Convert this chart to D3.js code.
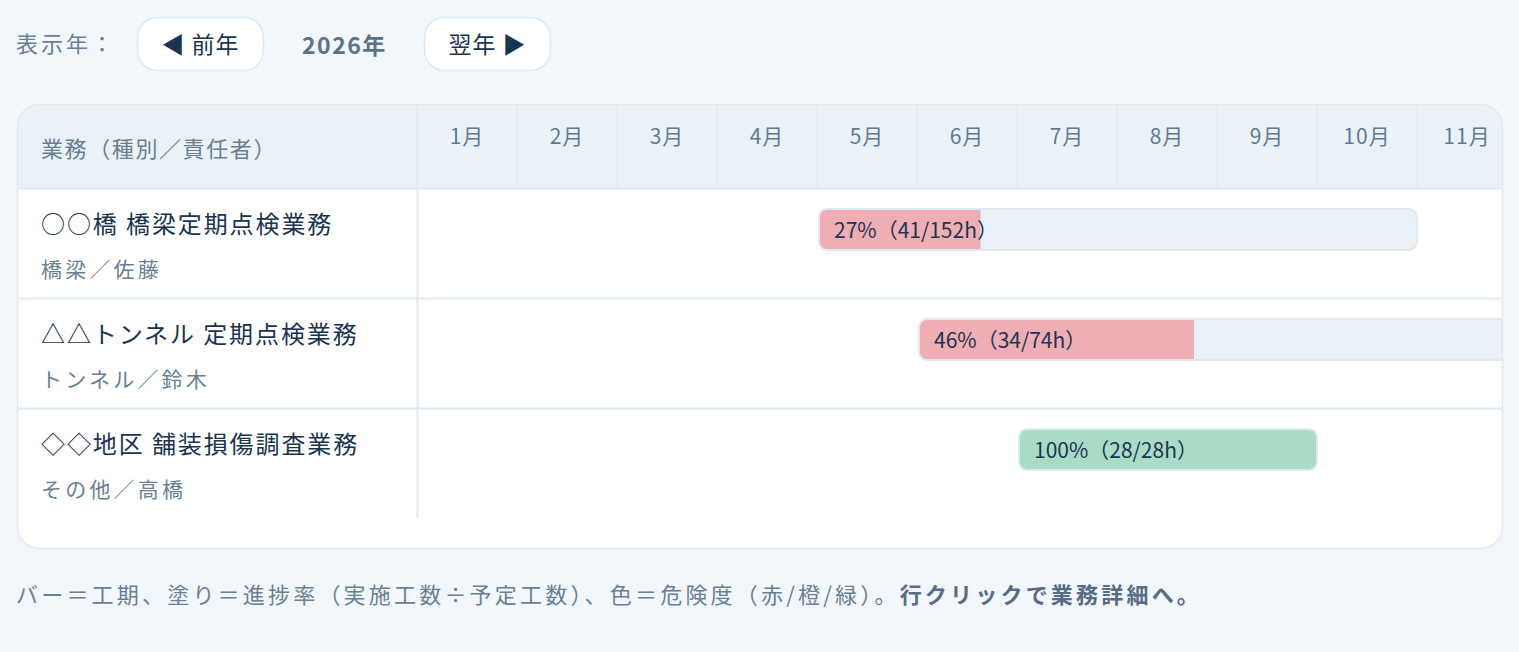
<!DOCTYPE html>
<html lang="ja">
<head>
<meta charset="utf-8">
<script src="https://cdn.jsdelivr.net/npm/d3@7"></script>
<style>
  html, body { margin: 0; padding: 0; background: #f2f7fb; }
  svg { display: block; font-family: "Noto Sans CJK JP", "Noto Sans", sans-serif; }
</style>
</head>
<body>
<svg id="chart" width="1519" height="652"></svg>
<script>
// ---- data ----
const months = ["1月","2月","3月","4月","5月","6月","7月","8月","9月","10月","11月","12月"];
const taskNames = ["○○橋 橋梁定期点検業務", "△△トンネル 定期点検業務", "◇◇地区 舗装損傷調査業務"];
const taskSubs = ["橋梁／佐藤", "トンネル／鈴木", "その他／高橋"];
const startMonth = [5, 6, 7];
const endMonth = [10, 11, 9];
const actualHours = [41, 34, 28];
const plannedHours = [152, 74, 28];
const progressPct = [27, 46, 100];
const riskLevel = ["赤", "赤", "緑"];
const yearLabel = "2026年";
const headerLabel = "業務（種別／責任者）";
const footerNote = "バー＝工期、塗り＝進捗率（実施工数÷予定工数）、色＝危険度（赤/橙/緑）。";
const footerBold = "行クリックで業務詳細へ。";

// ---- styles ----
const riskColor = { "赤": "#efadb4", "橙": "#f6d2a6", "緑": "#a9dcc5" };
const C = { line: "#dfe9f2", head: "#eaf2f8", muted: "#687f95", dark: "#183450", trackFill: "#e9f1f8" };

const svg = d3.select("#chart");
const W = 1519;

// ---- top controls ----
svg.append("text").attr("x", 16).attr("y", 52).attr("font-size", 22).attr("fill", C.muted)
   .style("letter-spacing", "3px").text("表示年：");
const btns = [{x: 137, label: "◀ 前年"}, {x: 424, label: "翌年 ▶"}];
btns.forEach(b => {
  svg.append("rect").attr("x", b.x + 0.5).attr("y", 17.5).attr("width", 126).attr("height", 53)
     .attr("rx", 20).attr("fill", "#fff").attr("stroke", C.line).attr("stroke-width", 1.5);
  svg.append("text").attr("x", b.x + 63.5).attr("y", 53).attr("text-anchor", "middle")
     .attr("font-size", 23).attr("fill", C.dark).style("letter-spacing", "1px").text(b.label);
});
svg.append("text").attr("x", 302).attr("y", 54).attr("font-size", 23).attr("font-weight", 700)
   .attr("fill", "#5b7289").style("letter-spacing", "1.5px").text(yearLabel);

// ---- table frame ----
const frame = {x: 17.5, y: 104.5, w: 1485, h: 444};
svg.append("defs").append("clipPath").attr("id", "frameClip")
   .append("rect").attr("x", frame.x).attr("y", frame.y).attr("width", frame.w).attr("height", frame.h).attr("rx", 22);
svg.append("rect").attr("x", frame.x).attr("y", frame.y).attr("width", frame.w).attr("height", frame.h)
   .attr("rx", 22).attr("fill", "#fff");
const g = svg.append("g").attr("clip-path", "url(#frameClip)");

const colLeft = 417;
const x = d3.scaleLinear().domain([0, 12]).range([colLeft, colLeft + 1200]);
const y = d3.scaleBand().domain(d3.range(taskNames.length)).range([189, 189 + 110 * taskNames.length]);

// header
g.append("rect").attr("x", 0).attr("y", 104).attr("width", W).attr("height", 84).attr("fill", C.head);
g.append("line").attr("x1", 0).attr("x2", W).attr("y1", 188.5).attr("y2", 188.5).attr("stroke", C.line).attr("stroke-width", 2);
g.selectAll(".mline").data(months).join("line").attr("class", "mline")
  .attr("x1", (d, i) => x(i + 1) + 0.5).attr("x2", (d, i) => x(i + 1) + 0.5)
  .attr("y1", 104).attr("y2", 188).attr("stroke", C.line).attr("stroke-width", 1.5);
// only labels of columns visible inside the scroll frame
const visibleMonths = months.map((m, i) => ({m, i})).filter(d => x(d.i + 0.5) < frame.x + frame.w);
g.selectAll(".mlabel").data(visibleMonths).join("text").attr("class", "mlabel")
  .attr("x", d => x(d.i + 0.5)).attr("y", 144).attr("text-anchor", "middle")
  .attr("font-size", 21).attr("fill", "#617a91").style("letter-spacing", "1px").text(d => d.m);
g.append("text").attr("x", 41).attr("y", 157).attr("font-size", 22).attr("fill", C.muted)
  .style("letter-spacing", "1.6px").text(headerLabel);

// first-column separator
g.append("line").attr("x1", colLeft + 0.5).attr("x2", colLeft + 0.5).attr("y1", 104).attr("y2", y.range()[1] - 1)
  .attr("stroke", C.line).attr("stroke-width", 2);

// row separators
g.selectAll(".rline").data(d3.range(taskNames.length - 1)).join("line").attr("class", "rline")
  .attr("x1", 0).attr("x2", W).attr("y1", i => y(i) + 109.5).attr("y2", i => y(i) + 109.5)
  .attr("stroke", C.line).attr("stroke-width", 2);

// rows
const rows = g.selectAll(".row").data(d3.range(taskNames.length)).join("g").attr("class", "row")
  .attr("transform", i => `translate(0,${y(i)})`);
rows.append("text").attr("x", 41).attr("y", 44).attr("font-size", 24).attr("fill", C.dark)
  .style("letter-spacing", "1.9px").text(i => taskNames[i]);
rows.append("text").attr("x", 41).attr("y", 88).attr("font-size", 21).attr("fill", C.muted)
  .style("letter-spacing", "3.2px").text(i => taskSubs[i]);

// bars
const defs = svg.select("defs");
rows.each(function(i) {
  const r = d3.select(this);
  const bx = x(startMonth[i] - 1) + 2;
  const bw = x(endMonth[i]) - bx;
  const by = 20, bh = 41;
  defs.append("clipPath").attr("id", "barClip" + i)
    .append("rect").attr("x", bx).attr("y", y(i) + by).attr("width", bw).attr("height", bh).attr("rx", 8);
  r.append("rect").attr("x", bx).attr("y", by).attr("width", bw).attr("height", bh).attr("rx", 8)
    .attr("fill", C.trackFill);
  const fillG = r.append("g").attr("clip-path", `url(#barClip${i})`).attr("transform", `translate(0,${-y(i)})`);
  fillG.append("rect").attr("x", bx).attr("y", y(i) + by).attr("width", bw * progressPct[i] / 100).attr("height", bh)
    .attr("fill", riskColor[riskLevel[i]]);
  r.append("rect").attr("x", bx).attr("y", by).attr("width", bw).attr("height", bh).attr("rx", 8)
    .attr("fill", "none").attr("stroke", C.line).attr("stroke-width", 2);
  r.append("text").attr("x", bx + 15).attr("y", by + 29).attr("font-size", 21).attr("fill", "#1d3550")
    .text(`${progressPct[i]}%（${actualHours[i]}/${plannedHours[i]}h）`);
});

// frame border
svg.append("rect").attr("x", frame.x).attr("y", frame.y).attr("width", frame.w).attr("height", frame.h)
   .attr("rx", 22).attr("fill", "none").attr("stroke", C.line).attr("stroke-width", 1.5);

// footer
const ft = svg.append("text").attr("x", 16).attr("y", 603).attr("font-size", 22).attr("fill", C.muted)
   .style("letter-spacing", "3.2px");
ft.append("tspan").text(footerNote);
ft.append("tspan").attr("font-weight", 700).attr("fill", "#566d85").text(footerBold);
</script>
</body>
</html>
